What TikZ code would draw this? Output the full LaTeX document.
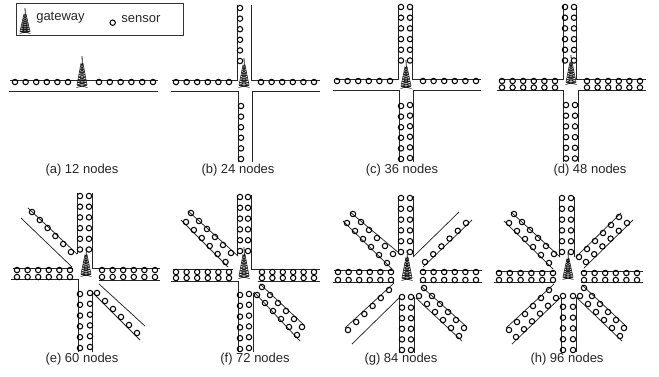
\documentclass[tikz,border=0pt]{standalone}
\usepackage{fontspec}
\setmainfont{Liberation Sans}
\tikzset{
  road/.style={line width=.75pt, black!85},
  sensor/.style={circle, draw, line width=1.05pt, minimum size=5.4pt, inner sep=0pt},
  caption/.style={font=\fontsize{13}{15}\selectfont, black!85, inner sep=0pt},
  legendbox/.style={draw, line width=1pt, black!80, minimum width=167pt, minimum height=32pt, inner sep=0pt}
}
\newcommand{\sensors}[5]{
\foreach \i in {0,...,5} {
  \node [sensor] (#1-\i) at ({#2+\i*#4},{#3+\i*#5}) {};
}}
\newcommand{\gateway}[3]{
\begin{scope}[shift={(#1,#2)}, yscale={(#3-#2)/30}, line width=.55pt, black!90]
\draw [line width=.8pt] (0,0) -- (.4,8);
\draw (-1,7) -- (-5,28) (1,7) -- (5,28);
\foreach \y in {8,10.5,...,28} {
  \pgfmathsetmacro{\w}{.8+(\y-7)*4.2/21}
  \pgfmathsetmacro{\v}{.8+(\y+2.5-7)*4.2/21}
  \draw (-\w,\y) -- (\w,\y) (-\w,\y) -- (\v,\y+2.5) (\w,\y) -- (-\v,\y+2.5);
}
\draw (-5,28) .. controls (-3,30) and (3,30) .. (5,28);
\end{scope}}
\begin{document}
\begin{tikzpicture}[x=1pt, y=-1pt]
\useasboundingbox (0,0) rectangle (659,376);
\node [legendbox] (legend) at (99.5,19) {};
\gateway{25}{8}{33}
\node [caption] (gwtext) at (60.5,18) {gateway};
\node [sensor] (sntype) at (112.7,22.7) {};
\node [caption] (sntext) at (141,19) {sensor};

% (a)
\draw [road] (10,80) -- (158,80) (9,91) -- (158,91);
\sensors{a1}{15}{82}{10.6}{0}
\sensors{a2}{99}{82}{10.8}{0}
\gateway{82}{56}{87}
\node [caption] (capa) at (82,170) {(a) 12 nodes};

% (b)
\draw [road] (237,5) -- (237,80) -- (172,80) (251,5) -- (251,80) -- (320,80);
\draw [road] (171,91) -- (238,91) -- (238,162) (320,91) -- (252,91) -- (252,162);
\sensors{b1}{176}{82}{10.6}{0}
\sensors{b2}{261}{82}{10.6}{0}
\sensors{b3}{240}{8}{0}{10.6}
\sensors{b4}{241}{106}{0}{10.6}
\gateway{244}{58}{87}
\node [caption] (capb) at (238,170) {(b) 24 nodes};

% (c)
\draw [road] (398,5) -- (398,79) -- (336,79) (412,5) -- (412,79) -- (481,79);
\draw [road] (333,90) -- (399,90) -- (399,162) (481,90) -- (413,90) -- (413,162);
\sensors{c1}{337}{81}{10.6}{0}
\sensors{c2}{423}{81}{10.6}{0}
\sensors{c3}{401}{7}{0}{10.7}
\sensors{c4}{410}{7}{0}{10.7}
\sensors{c5}{401}{106}{0}{10.6}
\sensors{c6}{410}{105}{0}{10.6}
\gateway{406}{60}{88}
\node [caption] (capc) at (402,170) {(c) 36 nodes};

% (d)
\draw [road] (563,5) -- (563,79) -- (499,79) (576,5) -- (576,79) -- (646,79);
\draw [road] (497,90) -- (563,90) -- (563,162) (646,90) -- (578,90) -- (578,162);
\sensors{d1}{502}{81}{10.6}{0}
\sensors{d2}{502}{87.5}{10.6}{0}
\sensors{d3}{587}{81}{10.6}{0}
\sensors{d4}{587}{87.5}{10.6}{0}
\sensors{d5}{565}{7}{0}{10.7}
\sensors{d6}{574}{7}{0}{10.7}
\sensors{d7}{566}{105}{0}{10.7}
\sensors{d8}{575}{105}{0}{10.7}
\gateway{571}{55}{84}
\node [caption] (capd) at (590,170) {(d) 48 nodes};

% (e)
\draw [road] (77,193) -- (77,254) (92,193) -- (92,268) -- (160,268);
\draw [road] (13,268) -- (73,268) (11,279) -- (78,279) -- (78,352);
\draw [road] (99,280) -- (160,280) (92,291) -- (92,352);
\draw [road] (28,208) -- (77,254) (21,218) -- (72,267);
\draw [road] (99,284) -- (145,326) (93,293) -- (140,340);
\sensors{e1}{17}{270}{10.6}{0}
\sensors{e2}{17}{277}{10.6}{0}
\sensors{e3}{102}{270}{10.6}{0}
\sensors{e4}{102}{277}{10.6}{0}
\sensors{e5}{80}{196}{0}{10.7}
\sensors{e6}{89}{196}{0}{10.7}
\sensors{e7}{80}{294}{0}{10.8}
\sensors{e8}{90}{293}{0}{10.8}
\sensors{e9}{32}{212}{7.8}{8}
\sensors{e10}{97}{293}{8}{8}
\gateway{86}{248}{276}
\node [caption] (cape) at (82,359) {(e) 60 nodes};

% (f)
\draw [road] (237,195) -- (237,256) (251,195) -- (251,269) -- (320,269);
\draw [road] (173,269) -- (233,269) (171,281) -- (238,281) -- (238,352);
\draw [road] (258,281) -- (320,281) (253,293) -- (253,352);
\draw [road] (188,211) -- (238,256) (181,220) -- (228,267);
\draw [road] (260,284) -- (304,325) (254,292) -- (300,341);
\sensors{f1}{176}{272}{10.6}{0}
\sensors{f2}{176}{278}{10.6}{0}
\sensors{f3}{262}{272}{10.4}{0}
\sensors{f4}{262}{278}{10.4}{0}
\sensors{f5}{240}{197}{0}{10.8}
\sensors{f6}{248}{197}{0}{10.8}
\sensors{f7}{240}{295}{0}{10.8}
\sensors{f8}{249}{294}{0}{10.8}
\sensors{f9}{191}{213}{8}{8}
\sensors{f10}{186}{222}{7.9}{8}
\sensors{f11}{262}{287}{8}{8}
\sensors{f12}{257}{295}{8}{8}
\gateway{244}{247}{278}
\node [caption] (capf) at (255,359) {(f) 72 nodes};

% (g)
\draw [road] (398,196) -- (398,254) (413,196) -- (413,257);
\draw [road] (399,298) -- (399,353) (414,297) -- (414,353);
\draw [road] (334,270) -- (393,270) (333,282) -- (394,282);
\draw [road] (420,270) -- (482,270) (420,282) -- (482,282);
\draw [road] (350,212) -- (399,253) (343,221) -- (392,269);
\draw [road] (413,257) -- (459,212) (423,267) -- (472,220);
\draw [road] (345,328) -- (394,283) (352,344) -- (399,298);
\draw [road] (422,287) -- (467,327) (416,298) -- (462,341);
\sensors{g1}{338}{272}{10.6}{0}
\sensors{g2}{338}{280}{10.6}{0}
\sensors{g3}{423}{272}{10.6}{0}
\sensors{g4}{423}{280}{10.6}{0}
\sensors{g5}{401}{198}{0}{10.8}
\sensors{g6}{410}{198}{0}{10.8}
\sensors{g7}{402}{297}{0}{10.6}
\sensors{g8}{411}{297}{0}{10.6}
\sensors{g9}{353}{214}{8}{8}
\sensors{g10}{347}{223}{8}{8}
\sensors{g11}{425}{262}{8.2}{-7.8}
\sensors{g12}{348}{330}{8.2}{-8}
\sensors{g13}{424}{288}{8}{8}
\sensors{g14}{419}{296}{8}{8}
\gateway{407}{250}{280}
\node [caption] (capg) at (401,359) {(g) 84 nodes};

% (h)
\draw [road] (559,197) -- (559,257) (574,197) -- (574,257);
\draw [road] (561,297) -- (561,352) (576,297) -- (576,352);
\draw [road] (496,271) -- (554,271) (494,282) -- (555,282);
\draw [road] (581,271) -- (643,271) (581,282) -- (643,282);
\draw [road] (511,212) -- (560,257) (504,221) -- (553,269);
\draw [road] (576,257) -- (621,213) (584,268) -- (633,220);
\draw [road] (506,328) -- (554,284) (512,344) -- (560,298);
\draw [road] (582,285) -- (627,327) (577,298) -- (622,341);
\sensors{h1}{499}{273}{10.8}{0}
\sensors{h2}{499}{280}{10.8}{0}
\sensors{h3}{584}{273}{10.6}{0}
\sensors{h4}{584}{280}{10.6}{0}
\sensors{h5}{562}{198}{0}{10.8}
\sensors{h6}{571}{198}{0}{10.8}
\sensors{h7}{563}{296}{0}{10.8}
\sensors{h8}{573}{296}{0}{10.8}
\sensors{h9}{514}{214}{8}{8}
\sensors{h10}{509}{223}{8}{8}
\sensors{h11}{579}{257}{8}{-8}
\sensors{h12}{586}{262}{8.2}{-7.8}
\sensors{h13}{509}{330}{8}{-8}
\sensors{h14}{516}{337}{8}{-7.8}
\sensors{h15}{584}{288}{8}{8}
\sensors{h16}{580}{296}{8}{8}
\gateway{568}{252}{279}
\node [caption] (caph) at (567,359) {(h) 96 nodes};
\end{tikzpicture}
\end{document}
